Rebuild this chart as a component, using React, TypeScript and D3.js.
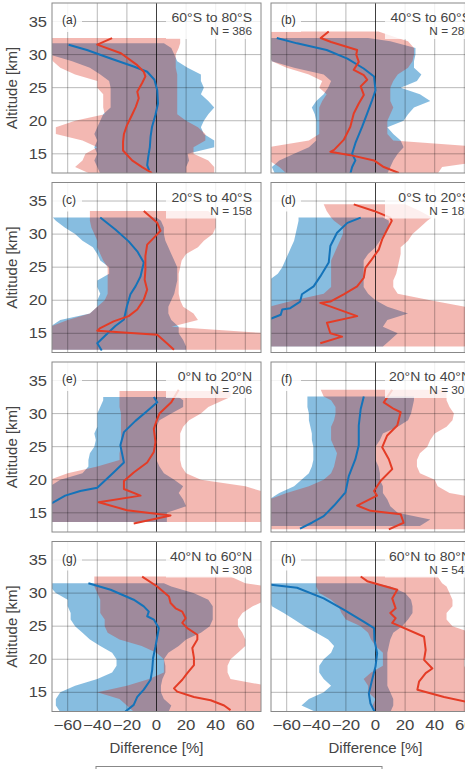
import React, { useRef, useEffect } from "react";
import * as d3 from "d3";

// panel labels
const letters = ["(a)", "(b)", "(c)", "(d)", "(e)", "(f)", "(g)", "(h)"];
const regions = [
  "60°S to 80°S", "40°S to 60°S", "20°S to 40°S", "0°S to 20°S",
  "0°N to 20°N", "20°N to 40°N", "40°N to 60°N", "60°N to 80°N",
];
const counts = [386, 280, 158, 182, 206, 301, 308, 547];

const xTicks = [-60, -40, -20, 0, 20, 40, 60];
const yTicks = [15, 20, 25, 30, 35];

// altitude grid of the shaded bands, one list per panel
const bandAlts = [
  [12, 13, 14, 15, 16, 17, 18, 19, 20, 21, 22, 23, 24, 25, 26, 27, 28, 29, 30, 31, 31.7, 32.5],
  [12, 13, 14, 15, 16, 17, 18, 19, 20, 21, 22, 23, 24, 25, 26, 27, 28, 29, 30, 31, 32, 32.5, 33.5],
  [12.5, 13, 14, 15, 16, 17, 18, 19, 20, 21, 22, 23, 24, 25, 26, 27, 28, 29, 30, 31, 32, 32.5, 33.5],
  [13, 14, 15, 16, 17, 18, 19, 20, 21, 22, 23, 24, 25, 26, 27, 28, 29, 30, 31, 32, 32.5, 33.5, 34.5],
  [13.6, 14, 15, 16, 17, 18, 19, 20, 21, 22, 23, 24, 25, 26, 27, 28, 29, 30, 31, 32, 32.5, 33.4],
  [12.5, 13, 14, 15, 16, 17, 18, 19, 20, 21, 22, 23, 24, 25, 26, 27, 28, 29, 30, 31, 32, 32.6, 33.6],
  [12, 13, 14, 15, 16, 17, 18, 19, 20, 21, 22, 23, 24, 25, 26, 27, 28, 29, 30, 31, 31.5, 32.5],
  [12, 13, 14, 15, 16, 17, 18, 19, 20, 21, 22, 23, 24, 25, 26, 27, 28, 29, 30, 31, 31.5, 32.5],
];

// blue band (lower / upper edge, %)
const blueLo = [
  [-38, -40, -42, -40, -42, -40, -42, -40, -38, -36, -31, -31, -31, -31, -32, -38, -45, -57, -72, -75, -75, null],
  [-68, -70, -65, -55, -45, -40, -40, -40, -40, -41, -43, -40, -35, -32, -30, -35, -55, -70, -72, -72, -72, -72, null],
  [-72, -72, -72, -72, -72, -65, -45, -40, -40, -38, -40, -40, -32, -32, -38, -40, -43, -50, -55, -62, -68, -70, null],
  [-72, -72, -72, -72, -72, -72, -72, -72, -72, -72, -72, -66, -63, -61, -59, -57, -55, -54, -53, -52, -52, null, null],
  [-72, -72, -72, -72, -72, -72, -72, -65, -50, -46, -46, -45, -42, -41, -42, -40, -40, -40, -38, -36, -36, null],
  [null, -72, -72, -72, -72, -72, -65, -55, -50, -45, -43, -42, -42, -42, -43, -43, -44, -45, -45, -46, -46, -46, null],
  [-65, -68, -68, -65, -55, -40, -30, -27, -27, -30, -38, -45, -50, -55, -58, -58, -60, -60, -68, -72, -72, null],
  [-40, -50, -45, -35, -30, -35, -38, -38, -35, -30, -28, -32, -40, -48, -55, -62, -70, -72, -72, -72, -72, null],
];
const blueHi = [
  [20, 20, 22, 21, 39, 39, 32, 30, 32, 35, 39, 35, 30, 32, 30, 30, 21, 14, 12, 10, 5, null],
  [8, 10, 12, 15, 19, 17, 12, 8, 19, 22, 26, 37, 30, 17, 28, 31, 26, 26, 27, 27, 10, -5, null],
  [20, 20, 18, 15, 15, 10, 8, 8, 10, 12, 13, 14, 14, 14, 12, 10, 8, 6, 5, 5, 3, 0, null],
  [5, 10, 15, 5, 8, 22, 8, 0, -5, -8, -8, -8, -8, -8, -5, 0, 3, 6, 9, 9, 5, null, null],
  [7, 7, 7, 20, 18, 15, 18, 12, 5, 2, 0, 0, 0, 0, 0, 0, 2, 10, 18, 18, 15, null],
  [null, 30, 37, 15, 10, 8, 5, 5, 3, 3, 2, 0, 0, 0, 3, 5, 15, 22, 24, 25, 26, 26, null],
  [8, 10, 5, 3, 3, 4, 6, 6, 5, 8, 15, 20, 30, 36, 38, 38, 38, 35, 25, 10, 5, null],
  [10, 12, 12, 10, 8, 8, 8, 8, 8, 8, 9, 10, 12, 18, 22, 25, 25, 24, 20, 10, 0, null],
];

// red band (lower / upper edge, %)
const redLo = [
  [-45, -55, -50, -48, -40, -50, -68, -68, -55, -35, -36, -36, -36, -40, -40, -55, -65, -70, -72, -75, -75, -75],
  [-60, -65, -72, -72, -72, -45, -38, -38, -38, -38, -38, -36, -33, -38, -36, -45, -60, -70, -72, -72, -72, -72, -72],
  [-72, -72, -72, -72, -72, -60, -45, -40, -35, -33, -33, -33, -33, -33, -36, -38, -40, -40, -42, -44, -45, -45, -45],
  [-72, -72, -72, -72, -72, -72, -72, -55, -35, -30, -30, -30, -30, -30, -28, -26, -24, -22, -22, -28, -30, -33, -35],
  [-72, -72, -72, -72, -72, -72, -72, -72, -60, -40, -25, -25, -24, -24, -24, -24, -24, -24, -25, -25, -25, -25],
  [-72, -72, -72, -72, -72, -72, -60, -45, -35, -30, -28, -27, -26, -28, -30, -30, -30, -28, -27, -27, -30, -35, -37],
  [-15, -20, -25, -40, -20, -5, 5, 5, 5, 0, -10, -25, -33, -35, -35, -38, -38, -38, -40, -42, -42, -42],
  [0, -2, 0, -5, -5, -8, -3, 5, 5, 5, 0, -3, -5, -10, -20, -23, -25, -30, -38, -40, -40, -40],
];
const redHi = [
  [39, 39, 35, 25, 25, 33, 33, 28, 20, 14, 14, 14, 14, 14, 14, 14, 13, 13, 13, 15, 16, 16],
  [42, 45, 75, 75, 75, 12, 8, 8, 8, 10, 12, 10, 10, 10, 12, 15, 22, 25, 26, 26, 22, 15, 2],
  [75, 75, 75, 75, 10, 28, 25, 18, 16, 15, 15, 15, 15, 16, 17, 20, 28, 32, 38, 40, 40, 40, 35],
  [60, 75, 75, 75, 75, 75, 61, 37, 15, 12, 12, 14, 15, 16, 17, 17, 22, 25, 30, 35, 38, 30, 20],
  [75, 75, 75, 75, 75, 75, 60, 30, 20, 17, 16, 16, 16, 16, 16, 18, 22, 30, 35, 45, 50, 50],
  [75, 75, 75, 75, 75, 75, 50, 42, 40, 30, 28, 28, 30, 35, 37, 40, 48, 52, 53, 50, 48, 48, 48],
  [75, 75, 75, 75, 75, 50, 48, 48, 50, 55, 60, 60, 58, 55, 55, 58, 65, 75, 75, 75, 60, 50],
  [75, 75, 75, 75, 75, 65, 62, 60, 60, 62, 65, 70, 65, 52, 48, 48, 52, 52, 50, 48, 45, 42],
];

// mean profiles
const redLineAlt = [
  [32.5, 31.5, 30.2, 28.4, 27.4, 26.7, 25.7, 24.4, 23.4, 22.1, 20.9, 19.3, 18, 16.8, 15.5, 14, 13, 12.1],
  [33.5, 32.5, 31.9, 30.7, 30, 28.9, 27.7, 26.9, 26.2, 25.2, 23.9, 22.6, 21.1, 19.1, 17.1, 15.6, 15.3, 14.8, 14, 13, 12.1],
  [33.5, 31.7, 30.5, 29.7, 28.4, 26.7, 24.6, 23.1, 21.6, 20.1, 18.6, 17.6, 16.8, 15.8, 15.4, 14.8, 13.5, 12.5],
  [34.5, 33.5, 32.5, 32, 30.7, 29.2, 27.7, 25.9, 24.9, 23.4, 22.1, 20.9, 19.8, 19.6, 17.6, 16.6, 15, 14.5, 13.5],
  [33.6, 31.7, 30, 29.2, 27.7, 25.7, 24.2, 22.6, 21.1, 19.8, 18.6, 17.6, 16.6, 15.4, 14.6, 13.4],
  [33.6, 31.7, 30.7, 30.2, 28.2, 26.7, 24.9, 23.1, 21.6, 19.8, 18.3, 17.6, 16.1, 15.3, 14.8, 13.5, 12.5],
  [32.5, 31, 29.5, 28.5, 27.7, 27.2, 26.2, 25.5, 24.7, 23.7, 23, 21.7, 20.2, 19.1, 17.9, 16.9, 15.6, 15.1, 14.3, 13.8, 13, 12.3],
  [32.5, 31.8, 30.5, 29.2, 27.7, 27, 26.2, 25.5, 23.4, 21.4, 19.9, 18.6, 17.9, 16.6, 15.4, 14.3, 13.6, 12.5],
];
const redLine = [
  [-30, -40, -24, -13, -8.6, -7.5, -9.7, -13, -12, -14, -16.5, -20, -22, -22.6, -22.6, -16.5, -9.7, -3],
  [-31.6, -37, -30, -12.4, -13, -11.3, -14.7, -7.9, -5.6, -10, -7.9, -11.3, -14.7, -17, -21.5, -28, -30.5, -17, -1, 5.6, 15.8],
  [-8.6, 0.5, 2.7, -0.7, -6.3, -7.5, -7.5, -8, -6.3, -8.6, -13, -18.8, -29, -38, -40, 0.5, 7, 11.8],
  [-14.7, -1, 10, 11, 7.9, 4.5, 2.3, -3.4, -6.8, -7.9, -12.4, -21.5, -30.5, -37.3, -12.4, -32.8, -30.5, -22.6, -37.3],
  [15, 10, 2, 0.5, -1.8, -0.7, -1.8, -6.3, -15.4, -22, -22, -10.8, -39, -20, 9.5, -15.4],
  [11.3, 5.6, 12.4, 17, 14.7, 7.9, 4.5, 9, 11.3, 3.4, -1, 1, -12.4, -3.4, 17, 19, 9],
  [-9.7, 0.5, 8.4, 9.5, 12.9, 17.4, 19.7, 17.4, 20.8, 27.6, 27.6, 24.2, 25.3, 25.3, 20.8, 17.4, 11.8, 14, 25.3, 36.6, 45.7, 50],
  [-10, -5.6, 14.7, 11.3, 13.6, 10, 13.6, 11.3, 32.8, 33.9, 32.8, 38.4, 33.9, 29.4, 28.3, 46.3, 61, 72],
];
const blueLineAlt = [
  [31.5, 30.7, 29.4, 28.2, 27.4, 26.2, 24.6, 22.6, 20.9, 19.1, 17.6, 16, 14.5, 13.3, 12.5],
  [32.5, 31.7, 30.7, 29.4, 27.9, 26.7, 24.6, 23.1, 21.1, 19.1, 16.6, 15, 14, 13, 12],
  [32.5, 30.7, 28.9, 27.4, 25.7, 23.6, 22.1, 20.9, 19.1, 17.1, 16.1, 15, 13.5, 12.4],
  [32.5, 31.7, 30.2, 28.2, 25.7, 23.6, 22.1, 20.9, 19.8, 18.8, 18.6, 17.8, 17.1],
  [32.5, 31.7, 30.4, 28.9, 27.2, 25.2, 22.6, 21.1, 18.8, 18.3, 17.6, 16.3],
  [32.6, 30.7, 28.2, 25.2, 23.1, 20.6, 18.1, 16.1, 14.5, 13.5, 12.6],
  [31.5, 30.5, 29, 28, 27.2, 26.5, 26, 24.7, 23.4, 21.9, 20.2, 18.4, 16.9, 15.4, 14.3, 13.1, 12.1],
  [31.3, 30.8, 29.2, 27.5, 25.7, 24.7, 22.9, 20.9, 18.9, 16.9, 14.8, 13.3, 12.1],
];
const blueLine = [
  [-59.4, -47, -31, -15.4, -6.3, -1.4, 0.5, 1, -0.7, -3, -4, -4.5, -5.6, -6.3, -5],
  [-66.7, -53, -33, -19, -8, -1, 0, -2.3, -5.6, -9, -13.6, -15.8, -13.6, -15.8, -17],
  [-38, -27.8, -18.8, -13, -8.6, -10.8, -14.2, -17.6, -20, -22, -27.8, -33, -40, -37],
  [-10, -19, -26, -30.5, -31.6, -37.3, -41.8, -49.7, -50.9, -57.6, -63, -64, -72],
  [-1.8, 0.5, -6.3, -14.2, -22, -24.4, -22, -29, -40, -51.5, -61.7, -72],
  [-7.9, -10, -11.3, -11.3, -13.6, -18, -20.3, -28, -35, -43, -51],
  [-46, -31, -15.4, -8.6, -5.2, -6.3, -1.8, 1.6, 0.5, -0.7, -2.3, -2.9, -4, -8.6, -13, -15.4, -21],
  [-72, -53, -35, -21.5, -8, -1, -0.7, 1.1, 0, -2.3, -4.5, -3.4, -0.7],
];

const W = 465;
const H = 769;
const PW = 209;
const PH = 170;
const FONT = "'Liberation Sans', Arial, Helvetica, sans-serif";

const App = () => {
  const svgRef = useRef<SVGSVGElement>(null);

  useEffect(() => {
    const svg = d3.select(svgRef.current);
    svg.selectAll("*").remove();

    const defs = svg.append("defs");

    // text placed at (x, y), stretched a little sideways like the original figure
    const label = (g, x, y, s, txt, size, anchor = "start") =>
      g.append("text")
        .attr("transform", `translate(${x},${y}) scale(${s},1)`)
        .attr("text-anchor", anchor)
        .attr("font-size", size)
        .attr("fill", "#444")
        .text(txt);

    letters.forEach((letter, i) => {
      const col = i % 2;
      const row = Math.floor(i / 2);
      const x0 = col === 0 ? 52 : 271;
      const y0 = 3 + row * 179.5;

      const x = d3.scaleLinear().domain([-70.6, 70.6]).range([x0, x0 + PW]);
      const y = d3.scaleLinear().domain([12.1, 37.8]).range([y0 + PH, y0]);

      defs.append("clipPath").attr("id", `clip${i}`)
        .append("rect").attr("x", x0).attr("y", y0).attr("width", PW).attr("height", PH);

      const g = svg.append("g");
      const plot = g.append("g").attr("clip-path", `url(#clip${i})`);

      const alts = bandAlts[i];
      const idx = d3.range(alts.length);

      const band = (lo, hi) =>
        d3.area<number>()
          .defined((j) => lo[j] != null && hi[j] != null)
          .y((j) => y(alts[j]))
          .x0((j) => x(lo[j]))
          .x1((j) => x(hi[j]))(idx);

      plot.append("path").attr("d", band(blueLo[i], blueHi[i]))
        .attr("fill", "rgb(0,114,189)").attr("fill-opacity", 0.47);
      plot.append("path").attr("d", band(redLo[i], redHi[i]))
        .attr("fill", "rgb(215,20,0)").attr("fill-opacity", 0.3);

      // grid
      plot.selectAll(".vg").data(xTicks).join("line")
        .attr("x1", (d) => x(d)).attr("x2", (d) => x(d))
        .attr("y1", y0).attr("y2", y0 + PH)
        .attr("stroke", "#000")
        .attr("stroke-opacity", (d) => (d === 0 ? 0.75 : 0.28))
        .attr("stroke-width", 1);
      plot.selectAll(".hg").data(yTicks).join("line")
        .attr("x1", x0).attr("x2", x0 + PW)
        .attr("y1", (d) => y(d)).attr("y2", (d) => y(d))
        .attr("stroke", "#000").attr("stroke-opacity", 0.28);

      const prof = (alt, vals) =>
        d3.line<number>().x((j) => x(vals[j])).y((j) => y(alt[j]))(d3.range(alt.length));

      plot.append("path").attr("d", prof(blueLineAlt[i], blueLine[i]))
        .attr("fill", "none").attr("stroke", "rgb(20,115,185)").attr("stroke-width", 2)
        .attr("stroke-linejoin", "round");
      plot.append("path").attr("d", prof(redLineAlt[i], redLine[i]))
        .attr("fill", "none").attr("stroke", "rgb(228,60,38)").attr("stroke-width", 2)
        .attr("stroke-linejoin", "round");

      // label boxes
      plot.append("rect").attr("x", x0).attr("y", y0).attr("width", 30).attr("height", 29)
        .attr("fill", "#fff").attr("fill-opacity", 0.85);
      plot.append("rect").attr("x", x0 + 114).attr("y", y0).attr("width", PW - 114).attr("height", 36)
        .attr("fill", "#fff").attr("fill-opacity", 0.78);

      label(g, x0 + 10, y0 + 21, 1, letter, 12).attr("fill", "#333");
      label(g, x0 + PW - 9, y0 + 19, 1.12, regions[i], 12.5, "end");
      label(g, x0 + PW - 9, y0 + 32, 1, `N = ${counts[i]}`, 11.8, "end");

      g.append("rect").attr("x", x0).attr("y", y0).attr("width", PW).attr("height", PH)
        .attr("fill", "none").attr("stroke", "#888").attr("stroke-width", 1);

      if (col === 0) {
        yTicks.forEach((t) => {
          label(g, x0 - 5, y(t) + 5, 1.18, String(t), 14, "end");
        });
        g.append("text")
          .attr("transform", `translate(17,${y0 + PH / 2}) rotate(-90)`)
          .attr("text-anchor", "middle").attr("font-size", 15).attr("fill", "#444")
          .text("Altitude [km]");
      }

      if (row === 3) {
        xTicks.forEach((t) => {
          label(g, x(t), y0 + PH + 18.5, 1.2, t < 0 ? "\u2212" + Math.abs(t) : String(t), 14, "middle");
        });
        label(g, x0 + PW / 2, y0 + PH + 41.5, 1, "Difference [%]", 15, "middle");
      }
    });

    // legend frame (cut by the bottom edge)
    svg.append("rect").attr("x", 96).attr("y", 766.5).attr("width", 286).attr("height", 40)
      .attr("fill", "#fff").attr("stroke", "#888").attr("stroke-width", 1);
  }, []);

  return (
    <svg
      ref={svgRef}
      width={W}
      height={H}
      style={{ position: "absolute", left: 0, top: 0, background: "#fff", fontFamily: FONT }}
    />
  );
};

export default App;
